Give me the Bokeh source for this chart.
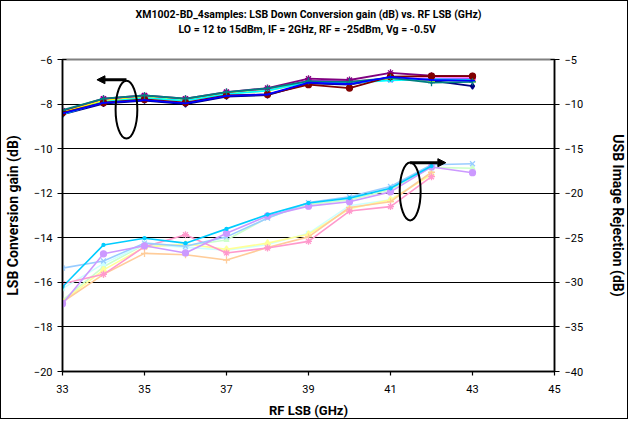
from bokeh.plotting import figure
from bokeh.models import Range1d, LinearAxis, FixedTicker, Title, Arrow, NormalHead
from bokeh.embed import file_html
from bokeh.resources import INLINE

# ---------------- data ----------------
freq = [33, 34, 35, 36, 37, 38, 39, 40, 41, 42, 43]
freq_to42 = [33, 34, 35, 36, 37, 38, 39, 40, 41, 42]
x_ticks = [33, 35, 37, 39, 41, 43, 45]
gain_ticks = [-20, -18, -16, -14, -12, -10, -8, -6]
rej_ticks = [-40, -35, -30, -25, -20, -15, -10, -5]

title_1 = "XM1002-BD_4samples: LSB Down Conversion gain (dB) vs. RF LSB (GHz)"
title_2 = "LO = 12 to 15dBm, IF = 2GHz, RF  = -25dBm, Vg = -0.5V"

# LSB conversion gain (dB), left axis
gain_navy = [-8.46, -7.98, -7.84, -8.00, -7.66, -7.60, -7.07, -7.13, -6.80, -6.95, -7.19]
gain_magenta = [-8.33, -7.80, -7.65, -7.80, -7.50, -7.35, -6.95, -6.98, -6.88, -6.85, -6.85]
gain_yellow = [-8.35, -7.85, -7.70, -7.82, -7.52, -7.40, -7.00, -7.02, -6.85, -6.92, -6.93]
gain_cyan = [-8.45, -7.90, -7.72, -7.85, -7.55, -7.40, -7.00, -7.05, -6.94, -6.88, -6.90]
gain_purple = [-8.30, -7.76, -7.61, -7.76, -7.46, -7.28, -6.86, -6.92, -6.60, -6.73, -6.75]
gain_darkred = [-8.39, -7.94, -7.79, -7.94, -7.61, -7.57, -7.13, -7.28, -6.77, -6.75, -6.75]
gain_teal = [-8.27, -7.76, -7.61, -7.76, -7.46, -7.30, -6.97, -7.00, -6.82, -7.04, -7.00]
gain_blue = [-8.42, -7.95, -7.82, -7.97, -7.63, -7.57, -7.04, -7.10, -6.78, -6.92, -6.95]

# USB image rejection (dB), right axis
rej_lightblue = [-28.4, -27.6, -25.6, -25.95, -24.9, -22.8, -21.05, -20.4, -19.25, -16.8, -16.7]
rej_lavender = [-32.4, -26.8, -25.9, -26.7, -24.5, -22.55, -21.45, -20.95, -19.85, -17.05, -17.7]
rej_lightgreen = [-32.0, -28.25, -25.75, -25.9, -25.25, -22.75, -21.25, -20.75, -19.6, -17.1, -17.2]
rej_lightcyan = [-30.7, -27.9, -25.75, -26.05, -26.4, -25.75, -24.5, -21.4, -20.75, -17.75]
rej_lightyellow = [-32.15, -28.6, -26.05, -25.7, -26.3, -25.6, -24.6, -21.75, -20.75, -17.9]
rej_orange = [-32.2, -29.1, -26.75, -26.9, -27.5, -26.1, -24.9, -21.6, -20.95, -17.65]
rej_pink = [-30.15, -29.1, -26.0, -24.65, -26.7, -26.15, -25.4, -22.0, -21.5, -18.15]
rej_skyblue = [-30.5, -25.8, -25.05, -25.6, -24.0, -22.4, -21.1, -20.55, -19.45, -16.95]

FONT = "Roboto"

p = figure(width=628, height=419, title=None,
           x_range=Range1d(33, 45), y_range=Range1d(-20, -6),
           output_backend="svg", toolbar_location=None,
           min_border_left=60, min_border_right=70, min_border_top=58, min_border_bottom=49)
p.extra_y_ranges = {"rej": Range1d(-40, -5)}
p.styles = {"border": "1px solid #000000"}

# titles: second line (with a trailing blank line for spacing) nearest the frame
p.add_layout(Title(text=title_2 + "\n", align="center", vertical_align="bottom",
                   text_font=FONT, text_font_size="10.5px", text_font_style="bold",
                   text_color="#000000", text_line_height=1.8, standoff=0), "above")
p.add_layout(Title(text=title_1, align="center", vertical_align="bottom",
                   text_font=FONT, text_font_size="10.5px", text_font_style="bold",
                   text_color="#000000", standoff=1), "above")

# frame / grid
p.outline_line_color = "#808080"
p.outline_line_width = 2
p.xgrid.visible = False
p.ygrid.ticker = FixedTicker(ticks=gain_ticks)
p.ygrid.grid_line_color = "#000000"
p.ygrid.grid_line_width = 1.2

def style_axis(ax, label_size):
    ax.axis_line_color = "#000000"
    ax.axis_line_width = 1.5
    ax.major_tick_line_color = "#000000"
    ax.major_tick_line_width = 1.2
    ax.major_tick_in = 4
    ax.major_tick_out = 5
    ax.minor_tick_line_color = None
    ax.major_label_text_font = FONT
    ax.major_label_text_font_size = "11px"
    ax.major_label_text_color = "#000000"
    ax.axis_label_text_font = FONT
    ax.axis_label_text_font_size = label_size
    ax.axis_label_text_font_style = "bold"
    ax.axis_label_text_color = "#000000"

xa = p.xaxis[0]
xa.ticker = FixedTicker(ticks=x_ticks)
xa.axis_label = "RF LSB (GHz)"
style_axis(xa, "13px")
xa.major_tick_in = 0
xa.major_tick_out = 4
xa.major_label_standoff = 9
xa.axis_label_standoff = 7

ya = p.yaxis[0]
ya.ticker = FixedTicker(ticks=gain_ticks)
ya.axis_label = "LSB Conversion gain (dB)"
style_axis(ya, "14px")
ya.major_label_standoff = 5
ya.axis_label_standoff = 10

ra = LinearAxis(y_range_name="rej", ticker=FixedTicker(ticks=rej_ticks),
                axis_label="USB Image Rejection (dB)")
style_axis(ra, "14px")
ra.major_label_standoff = 5
ra.axis_label_standoff = 24
p.add_layout(ra, "right")

# ---------------- image rejection series (right axis) ----------------
rej_series = [
    (freq, rej_lightgreen, "#CCFFCC", "triangle", 5),
    (freq_to42, rej_lightcyan, "#CCFFFF", "square", 4),
    (freq_to42, rej_lightyellow, "#FFFF99", "triangle", 6),
    (freq_to42, rej_orange, "#FFCC99", "cross", 7),
    (freq_to42, rej_pink, "#FF99CC", "asterisk", 7),
    (freq, rej_lightblue, "#99CCFF", "x", 7),
    (freq, rej_lavender, "#CC99FF", "circle", 6),
    (freq_to42, rej_skyblue, "#00CCFF", "circle", 3),
]
for xs, ys, col, mk, sz in rej_series:
    p.line(xs, ys, y_range_name="rej", line_color=col, line_width=1.6)
    p.scatter(xs, ys, y_range_name="rej", marker=mk, size=sz,
              line_color=col, fill_color=col, line_width=1.3)

# ---------------- conversion gain series (left axis) ----------------
gain_series = [
    (gain_navy, "#000080", "diamond", 6),
    (gain_magenta, "#FF00FF", "square", 5),
    (gain_yellow, "#FFFF00", "triangle", 6),
    (gain_cyan, "#00FFFF", "x", 6),
    (gain_purple, "#800080", "asterisk", 7),
    (gain_darkred, "#800000", "circle", 6),
    (gain_teal, "#008080", "cross", 7),
    (gain_blue, "#0000FF", "dash", 5),
]
for ys, col, mk, sz in gain_series:
    p.line(freq, ys, line_color=col, line_width=1.8)
    p.scatter(freq, ys, marker=mk, size=sz, line_color=col, fill_color=col, line_width=1.3)

# ---------------- annotations (ellipses + arrows) ----------------
p.ellipse(x=[34.56], y=[-8.25], width=0.53, height=2.6,
          fill_color=None, line_color="#000000", line_width=2)
p.ellipse(x=[41.48], y=[-11.92], width=0.51, height=2.6,
          fill_color=None, line_color="#000000", line_width=2)
p.add_layout(Arrow(end=NormalHead(size=8, fill_color="#000000", line_color="#000000"),
                   x_start=34.56, y_start=-6.91, x_end=33.84, y_end=-6.91,
                   line_color="#000000", line_width=3))
p.add_layout(Arrow(end=NormalHead(size=8, fill_color="#000000", line_color="#000000"),
                   x_start=41.48, y_start=-10.63, x_end=42.35, y_end=-10.63,
                   line_color="#000000", line_width=3))

open("out.html", "w").write(file_html(p, INLINE))
